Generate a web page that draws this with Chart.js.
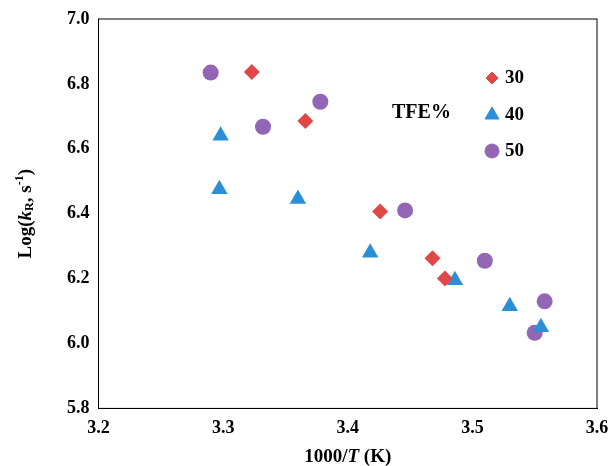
<!DOCTYPE html>
<html><head><script src="https://cdn.jsdelivr.net/npm/chart.js@4"></script>
<style>body{margin:0;background:#fff}#w{width:613px;height:466px}</style></head>
<body><div id="w"><canvas id="c"></canvas></div>
<script>
const xTFE30=[3.323,3.366,3.426,3.468,3.478];
const yTFE30=[6.837,6.686,6.407,6.263,6.2];
const xTFE40=[3.298,3.297,3.36,3.418,3.486,3.53,3.555];
const yTFE40=[6.64,6.475,6.445,6.28,6.195,6.115,6.05];
const xTFE50=[3.29,3.332,3.378,3.446,3.51,3.55,3.558];
const yTFE50=[6.835,6.668,6.745,6.41,6.255,6.033,6.13];
const labels=['30','40','50'];
const colors=['#e04848','#2b8fd8','#9365b5'];
const styles=['rectRot','triangle','circle'];
const radii=[8,9.5,8];
const pts=(xs,ys)=>xs.map((x,i)=>({x,y:ys[i]}));
const sets=[pts(xTFE30,yTFE30),pts(xTFE40,yTFE40),pts(xTFE50,yTFE50)];
const F='"Liberation Serif","Times New Roman",serif';
function rich(ctx,parts,x,y){
  let w=0;parts.forEach(p=>{ctx.font=(p[2]?'italic ':'')+'bold '+p[1]+'px '+F;w+=ctx.measureText(p[0]).width;});
  let cx=x-w/2;parts.forEach(p=>{ctx.font=(p[2]?'italic ':'')+'bold '+p[1]+'px '+F;ctx.fillText(p[0],cx,y+(p[3]||0));cx+=ctx.measureText(p[0]).width;});
}
const deco={id:'deco',afterDraw(ch){const {ctx,chartArea:a}=ch;ctx.save();ctx.strokeStyle='#000';ctx.lineWidth=1;ctx.strokeRect(a.left,a.top,a.right-a.left,a.bottom-a.top);
ctx.fillStyle='#000';ctx.textBaseline='middle';ctx.font='bold 19px '+F;
const ly=[78,115,151];
labels.forEach((l,i)=>ctx.fillText(l,505,ly[i]));
ctx.font='bold 20px '+F;ctx.fillText('TFE%',392,113);
ly.forEach((y,i)=>{ctx.fillStyle=colors[i];ctx.strokeStyle=colors[i];Chart.helpers.drawPoint(ctx,{pointStyle:styles[i],radius:[6,8,7][i],borderWidth:1},492,y);});
ctx.fillStyle='#000';
rich(ctx,[['1000/',19,false],['T',19,true],[' (K)',19,false]],(a.left+a.right)/2,457);
ctx.translate(26,(a.top+a.bottom)/2);ctx.rotate(-Math.PI/2);
rich(ctx,[['Log(',19,false],['k',19,true],['R',12,false,4],[', s',19,false],['-1',12,false,-6],[')',19,false]],0,0);
ctx.restore();}};
new Chart(document.getElementById('c'),{type:'scatter',
data:{datasets:sets.map((d,i)=>({label:labels[i],data:d,backgroundColor:colors[i],borderColor:colors[i],pointStyle:styles[i],pointRadius:radii[i],borderWidth:0}))},
options:{animation:false,responsive:true,maintainAspectRatio:false,
layout:{padding:{left:64,right:16,top:19,bottom:24}},
plugins:{legend:{display:false},tooltip:{enabled:false}},
scales:{
x:{type:'linear',min:3.2,max:3.6,ticks:{stepSize:0.1,color:'#000',font:{family:F,size:18,weight:'bold'},callback:v=>v.toFixed(1)},grid:{display:false,tickLength:6},border:{color:'#000'}},
y:{min:5.8,max:7.0,ticks:{stepSize:0.2,color:'#000',font:{family:F,size:18,weight:'bold'},callback:v=>v.toFixed(1)},grid:{display:false,tickLength:6},border:{color:'#000'}}}},
plugins:[deco]});
</script></body></html>
